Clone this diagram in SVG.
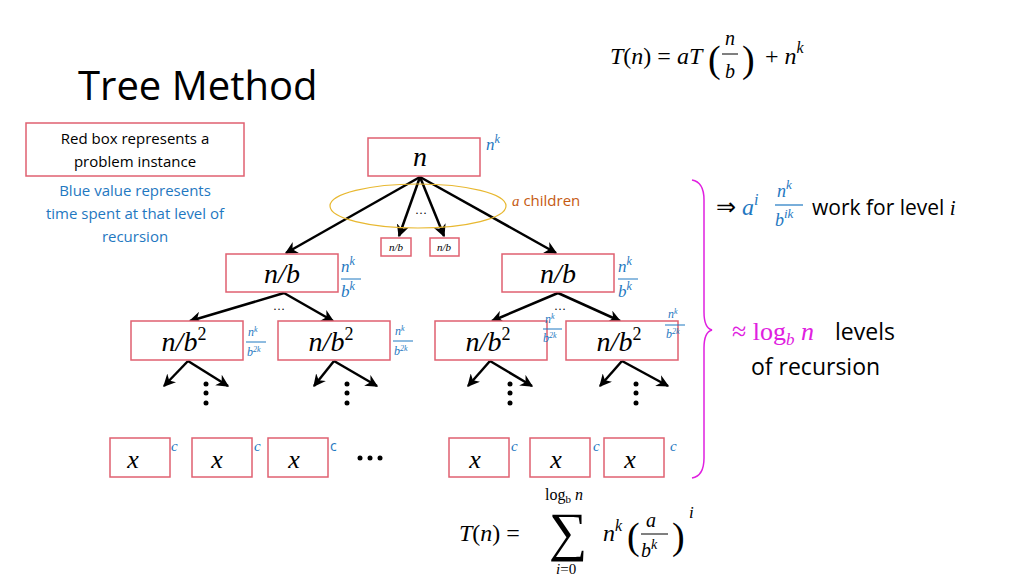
<svg xmlns="http://www.w3.org/2000/svg" width="1024" height="576" viewBox="0 0 1024 576">
<style>
.box{fill:#fff;stroke:#e06070;stroke-width:1.5}
.m{font-family:"Liberation Serif",serif;font-style:italic;fill:#000}
.r{font-family:"Liberation Serif",serif;fill:#000}
.b{fill:#1f78c1}
.t{font-family:"Open Sans","Liberation Sans",sans-serif}
.ln{stroke:#000;stroke-width:2.5;fill:none;marker-end:url(#ah)}
.fl{stroke:#1f78c1;stroke-width:1}
</style>
<defs>
<marker id="ah" viewBox="0 0 10 10" refX="9" refY="5" markerWidth="5" markerHeight="5" orient="auto"><path d="M0,0 L10,5 L0,10 L3,5 z" fill="#000"/></marker>
</defs>
<rect width="1024" height="576" fill="#fff"/>
<text x="78" y="100" class="t" font-size="40">Tree Method</text>
<g id="formula-top"><text x="610" y="64" class="m" font-size="24">T<tspan class="r" font-style="normal">(</tspan>n<tspan font-style="normal">) = </tspan>aT</text>
<text x="708" y="72" class="r" font-size="38">(</text><text x="725" y="45" class="m" font-size="20">n</text><line x1="722" y1="54" x2="738" y2="54" stroke="#000"/><text x="725" y="78" class="m" font-size="20">b</text><text x="742" y="72" class="r" font-size="38">)</text>
<text x="765" y="64" class="r" font-size="24">+ <tspan font-style="italic">n</tspan><tspan font-style="italic" font-size="16" dy="-11">k</tspan></text></g>
<g id="legend"><rect x="26" y="123" width="218" height="53" class="box"/>
<text x="135" y="144" class="t" font-size="15" text-anchor="middle">Red box represents a</text>
<text x="135" y="167" class="t" font-size="15" text-anchor="middle">problem instance</text>
<g class="t b" font-size="15" text-anchor="middle"><text x="135" y="196">Blue value represents</text><text x="135" y="219">time spent at that level of</text><text x="135" y="242">recursion</text></g></g>
<g id="connectors">
<line class="ln" x1="420" y1="177" x2="286" y2="253"/>
<line class="ln" x1="420" y1="177" x2="399" y2="236"/>
<line class="ln" x1="420" y1="177" x2="444" y2="236"/>
<line class="ln" x1="420" y1="177" x2="556" y2="253"/>
<line class="ln" x1="284" y1="293" x2="190" y2="321"/>
<line class="ln" x1="284" y1="293" x2="333" y2="321"/>
<line class="ln" x1="558" y1="293" x2="492" y2="321"/>
<line class="ln" x1="558" y1="293" x2="620" y2="321"/>
<line class="ln" x1="188" y1="361" x2="164" y2="386"/><line class="ln" x1="188" y1="361" x2="228" y2="386"/>
<line class="ln" x1="334" y1="361" x2="314" y2="386"/><line class="ln" x1="334" y1="361" x2="377" y2="386"/>
<line class="ln" x1="490" y1="361" x2="468" y2="386"/><line class="ln" x1="490" y1="361" x2="532" y2="386"/>
<line class="ln" x1="622" y1="361" x2="600" y2="386"/><line class="ln" x1="622" y1="361" x2="668" y2="386"/>
</g>
<g id="dots" fill="#000"><circle cx="206" cy="384" r="2.5"/><circle cx="206" cy="393" r="2.5"/><circle cx="206" cy="403" r="2.5"/>
<circle cx="347" cy="384" r="2.5"/><circle cx="347" cy="393" r="2.5"/><circle cx="347" cy="403" r="2.5"/>
<circle cx="510" cy="384" r="2.5"/><circle cx="510" cy="393" r="2.5"/><circle cx="510" cy="403" r="2.5"/>
<circle cx="636" cy="384" r="2.5"/><circle cx="636" cy="393" r="2.5"/><circle cx="636" cy="403" r="2.5"/>
<circle cx="360" cy="458" r="2.5"/><circle cx="370" cy="458" r="2.5"/><circle cx="380" cy="458" r="2.5"/></g>
<g id="root"><rect x="368" y="138" width="112" height="38" class="box"/><text x="420" y="166" class="m" font-size="28" text-anchor="middle">n</text>
<text x="486" y="150" class="m b" font-size="17">n<tspan font-size="12" dy="-7">k</tspan></text></g>
<g id="children-label"><ellipse cx="418" cy="206" rx="88" ry="22" fill="none" stroke="#e8b830" stroke-width="1.2"/>
<text x="421" y="214" class="r" font-size="12" text-anchor="middle">…</text>
<text x="512" y="206" class="t" font-size="15" fill="#c55a11"><tspan font-family="Liberation Serif" font-style="italic">a</tspan> children</text></g>
<g id="small1"><rect x="381" y="238" width="30" height="18" class="box"/><text x="396" y="251" class="m" font-size="11" text-anchor="middle">n/b</text></g>
<g id="small2"><rect x="430" y="238" width="29" height="18" class="box"/><text x="444" y="251" class="m" font-size="11" text-anchor="middle">n/b</text></g>
<g id="nb-left"><rect x="226" y="254" width="112" height="38" class="box"/><text x="282" y="283" class="m" font-size="28" text-anchor="middle">n/b</text>
<text x="341" y="272" class="m b" font-size="17">n<tspan font-size="12" dy="-7">k</tspan></text><line x1="341" y1="279" x2="361" y2="279" class="fl"/><text x="341" y="297" class="m b" font-size="17">b<tspan font-size="12" dy="-7">k</tspan></text></g>
<g id="nb-right"><rect x="502" y="254" width="112" height="38" class="box"/><text x="558" y="283" class="m" font-size="28" text-anchor="middle">n/b</text>
<text x="618" y="272" class="m b" font-size="17">n<tspan font-size="12" dy="-7">k</tspan></text><line x1="618" y1="279" x2="638" y2="279" class="fl"/><text x="618" y="297" class="m b" font-size="17">b<tspan font-size="12" dy="-7">k</tspan></text></g>
<text x="279" y="310" class="r" font-size="12" text-anchor="middle">…</text>
<text x="560" y="310" class="r" font-size="12" text-anchor="middle">…</text>
<g id="l2a"><rect x="131" y="321" width="112" height="39" class="box"/><text x="184" y="351" class="m" font-size="28" text-anchor="middle">n/b<tspan font-style="normal" font-size="18" dy="-11">2</tspan></text>
<text x="248" y="336" class="m b" font-size="12">n<tspan font-size="8" dy="-4">k</tspan></text><line x1="246" y1="342" x2="266" y2="342" class="fl"/><text x="247" y="356" class="m b" font-size="12">b<tspan font-size="8" dy="-4">2k</tspan></text></g>
<g id="l2b"><rect x="278" y="321" width="112" height="39" class="box"/><text x="331" y="351" class="m" font-size="28" text-anchor="middle">n/b<tspan font-style="normal" font-size="18" dy="-11">2</tspan></text>
<text x="395" y="335" class="m b" font-size="12">n<tspan font-size="8" dy="-4">k</tspan></text><line x1="393" y1="341" x2="413" y2="341" class="fl"/><text x="394" y="355" class="m b" font-size="12">b<tspan font-size="8" dy="-4">2k</tspan></text></g>
<g id="l2c"><rect x="435" y="321" width="112" height="39" class="box"/><text x="488" y="351" class="m" font-size="28" text-anchor="middle">n/b<tspan font-style="normal" font-size="18" dy="-11">2</tspan></text>
<text x="545" y="323" class="m b" font-size="12">n<tspan font-size="8" dy="-4">k</tspan></text><line x1="543" y1="329" x2="562" y2="329" class="fl"/><text x="543" y="342" class="m b" font-size="12">b<tspan font-size="8" dy="-4">2k</tspan></text></g>
<g id="l2d"><rect x="566" y="321" width="112" height="39" class="box"/><text x="619" y="351" class="m" font-size="28" text-anchor="middle">n/b<tspan font-style="normal" font-size="18" dy="-11">2</tspan></text>
<text x="668" y="318" class="m b" font-size="12">n<tspan font-size="8" dy="-4">k</tspan></text><line x1="665" y1="325" x2="685" y2="325" class="fl"/><text x="666" y="338" class="m b" font-size="12">b<tspan font-size="8" dy="-4">2k</tspan></text></g>
<g id="leaves">
<g id="leaf1"><rect x="110" y="438" width="60" height="39" class="box"/><text x="133" y="468" class="m" font-size="26" text-anchor="middle">x</text><text x="171" y="451" class="m b" font-size="15">c</text></g>
<g id="leaf2"><rect x="192" y="438" width="60" height="39" class="box"/><text x="217" y="468" class="m" font-size="26" text-anchor="middle">x</text><text x="254" y="451" class="m b" font-size="15">c</text></g>
<g id="leaf3"><rect x="268" y="438" width="60" height="39" class="box"/><text x="294" y="468" class="m" font-size="26" text-anchor="middle">x</text><text x="330" y="451" class="t b" font-size="14">c</text></g>
<g id="leaf4"><rect x="449" y="438" width="60" height="39" class="box"/><text x="475" y="468" class="m" font-size="26" text-anchor="middle">x</text><text x="511" y="451" class="m b" font-size="15">c</text></g>
<g id="leaf5"><rect x="530" y="438" width="60" height="39" class="box"/><text x="556" y="468" class="m" font-size="26" text-anchor="middle">x</text><text x="593" y="451" class="m b" font-size="15">c</text></g>
<g id="leaf6"><rect x="604" y="438" width="60" height="39" class="box"/><text x="630" y="468" class="m" font-size="26" text-anchor="middle">x</text><text x="670" y="451" class="m b" font-size="15">c</text></g>
</g>
<path id="brace" d="M692,180 Q704,182 704,200 L704,312 Q704,328 712,330 Q704,332 704,348 L704,458 Q704,476 692,478" fill="none" stroke="#e020e0" stroke-width="1.5"/>
<g id="right-text">
<text x="716" y="215" class="r" font-size="24">⇒ <tspan font-style="italic" fill="#1f78c1">a</tspan><tspan font-style="italic" fill="#1f78c1" font-size="16" dy="-10">i</tspan></text>
<text x="777" y="197" class="m b" font-size="18">n<tspan font-size="13" dy="-8">k</tspan></text><line x1="775" y1="205" x2="803" y2="205" stroke="#1f78c1" stroke-width="1.2"/><text x="775" y="226" class="m b" font-size="18">b<tspan font-size="13" dy="-8">ik</tspan></text>
<text x="812" y="215" class="t" font-size="21">work for level <tspan font-family="Liberation Serif" font-style="italic">i</tspan></text>
<text x="732" y="340" font-size="26" font-family="Liberation Serif,serif" fill="#e020e0">≈ log<tspan font-style="italic" font-size="17" dy="5">b</tspan><tspan dy="-5" font-style="italic"> n</tspan></text>
<text x="835" y="340" class="t" font-size="23">levels</text>
<text x="751" y="375" class="t" font-size="23">of recursion</text>
</g>
<g id="formula-bottom">
<text x="459" y="541" class="m" font-size="24">T<tspan font-style="normal">(</tspan>n<tspan font-style="normal">) =</tspan></text>
<text x="549" y="550" class="r" font-size="54">∑</text>
<text x="545" y="500" class="r" font-size="16">log<tspan font-size="11" dy="3">b</tspan><tspan dy="-3" font-style="italic"> n</tspan></text>
<text x="556" y="574" class="m" font-size="15">i<tspan font-style="normal">=0</tspan></text>
<text x="603" y="541" class="m" font-size="24">n<tspan font-size="16" dy="-10">k</tspan></text>
<text x="627" y="549" class="r" font-size="38">(</text><text x="646" y="527" class="m" font-size="20">a</text><line x1="641" y1="534" x2="668" y2="534" stroke="#000"/><text x="641" y="557" class="m" font-size="20">b<tspan font-size="14" dy="-8">k</tspan></text><text x="672" y="549" class="r" font-size="38">)</text>
<text x="689" y="518" class="m" font-size="17">i</text>
</g>
</svg>
